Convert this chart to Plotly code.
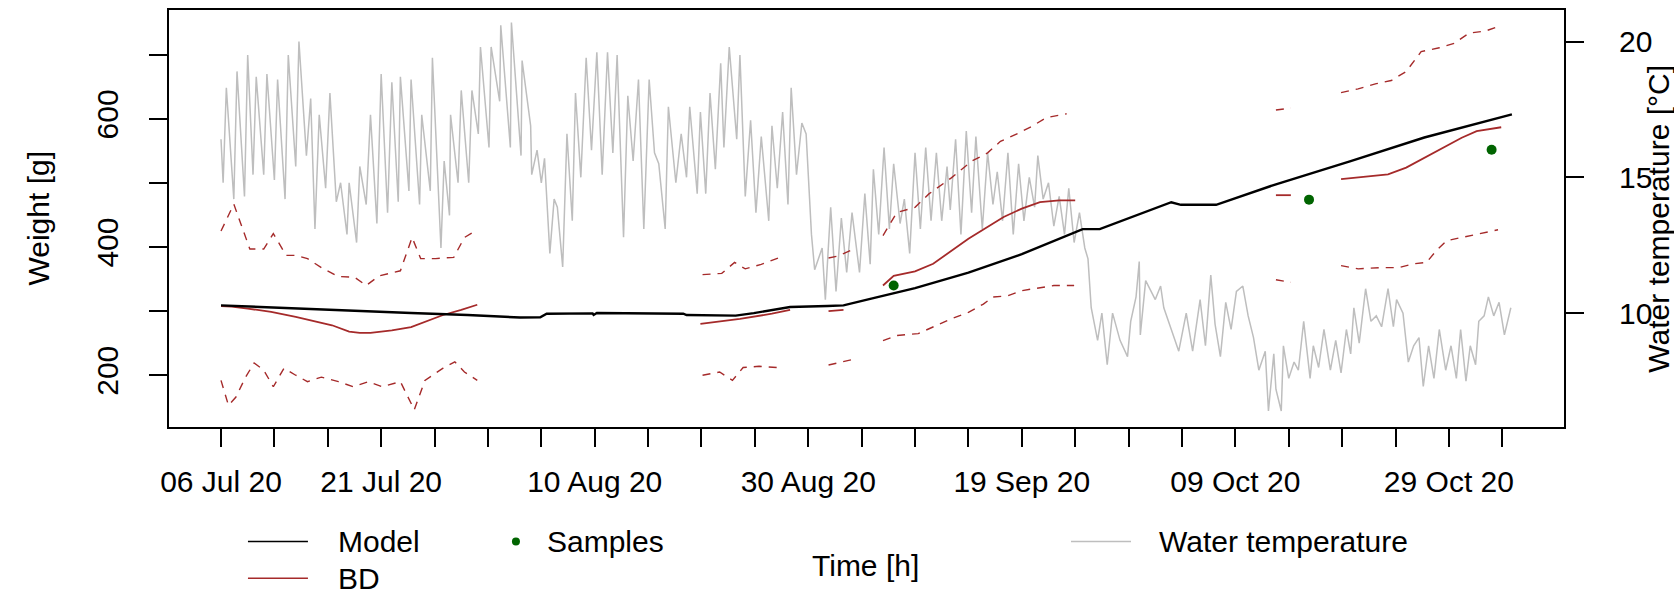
import pandas as pd
import plotly.graph_objects as go

START = pd.Timestamp("2020-07-06")

# ---- data (x values are days since 06 Jul 2020) ----
model_day = [0, 7, 12.7, 17.8, 23.1, 28, 29.9, 30.5, 34.8, 34.9, 35.2, 43.3, 43.6, 48.2,
             49.9, 53.3, 56.8, 58.3, 61, 65, 70, 75, 80.7, 82.3, 89, 89.9, 93.2, 98.8,
             105.8, 112.7, 120.9]
model_g = [309, 304, 300, 297, 294, 290, 290.5, 296, 296.5, 294, 297, 296, 294, 293,
           297, 306.5, 308, 309, 320, 336, 360, 389, 428, 428, 470, 466, 466, 498,
           534, 571, 607]

bd_day = [
    [0, 1, 2.5, 4.7, 7, 10.4, 12, 13, 14, 16, 17.8, 19.5, 20.8, 22.5, 24],
    [44.9, 46.5, 48.6, 51.6, 53.3],
    [56.9, 58.3],
    [62, 63, 65, 66.7, 70, 73.3, 75, 76.7, 78.5, 80],
    [98.8, 100.2],
    [104.9, 106.5, 109.3, 111, 112.7, 114.5, 116.2, 117.6, 119.9],
]
bd_g = [
    [308, 307, 304, 299, 291, 278, 268, 266, 266, 270, 275, 286, 294, 302, 310],
    [280, 283, 288, 296, 302],
    [300, 302],
    [340, 355, 362, 374, 413, 447, 460, 470, 473, 473],
    [481, 481],
    [506, 508.5, 513.6, 524, 539.5, 555, 570.6, 581, 587],
]

bd_hi_day = [
    [0, 1.2, 2.7, 4, 4.9, 6.1, 7, 8.1, 9.4, 11, 12.5, 13.6, 14.8, 16.8, 17.9, 18.7,
     20.1, 21.8, 22.8, 24],
    [45.1, 46.9, 48.1, 49.1, 50.6, 52.2],
    [56.9, 57.8, 59],
    [62, 63.3, 65, 66.3, 68.4, 70.3, 71.8, 73, 74.7, 76, 77.3, 79.2],
    [98.8, 100.2],
    [104.9, 106.5, 108.2, 109.6, 111, 112.4, 114.1, 115.5, 116.9, 118.4, 119.9],
]
bd_hi_g = [
    [425, 467, 397, 397, 421, 387, 387, 382, 368, 354, 353, 340, 355, 363, 415, 382,
     382, 384, 415, 427],
    [357, 359, 376, 366, 373, 383],
    [383, 386, 395],
    [418, 454, 462, 483, 508, 534, 547, 565, 578, 589, 602, 608],
    [614, 617],
    [641, 647, 655, 660, 674, 705, 711, 718, 734, 737, 746],
]

bd_lo_day = [
    [0, 0.7, 1.4, 2.3, 3.1, 4, 4.9, 5.9, 7, 8.1, 9.4, 11, 12.4, 13.8, 15.1, 16.8,
     18.1, 19.1, 20.8, 21.9, 22.8, 24],
    [45.1, 46.7, 47.9, 48.9, 50.4, 52.1],
    [56.9, 59],
    [62, 63.3, 65.3, 66.7, 68.4, 70, 71.4, 72.3, 73.7, 75, 76.7, 78, 79.9],
    [98.8, 100.2],
    [104.9, 106.5, 108.6, 110.3, 111.7, 112.9, 113.8, 114.8, 116.2, 117.6, 119.6],
]
bd_lo_g = [
    [192, 153, 166, 197, 219, 208, 182, 211, 200, 190, 197, 190, 182, 190, 182, 190,
     146, 192, 211, 221, 205, 192],
    [200, 205, 192, 212, 214, 212],
    [216, 224],
    [254, 262, 265, 275, 288, 298, 311, 322, 324, 332, 337, 340, 340],
    [349, 345],
    [371, 366, 368, 368, 374, 376, 394, 410, 415, 420, 427],
]

sample_day = [63.0, 101.9, 119.0]
sample_g = [340, 474, 552]

temp_day = [
    0.0, 0.2, 0.5, 1.2, 1.5, 2.2, 2.5, 3.0, 3.3, 4.0, 4.3, 5.0, 5.3, 6.0, 6.3, 7.0, 7.3,
    8.0, 8.4, 8.8, 9.2, 9.8, 10.2, 10.8, 11.2, 11.8, 12.0, 12.7, 13.0, 13.6, 14.0, 14.6,
    15.0, 15.6, 16.0, 16.6, 16.8, 17.6, 17.8, 18.6, 18.8, 19.6, 19.8, 20.6, 20.9, 21.4,
    21.5, 22.2, 22.5, 23.2, 23.5, 24.1, 24.3, 25.1, 25.3, 26.1, 26.2, 27.1, 27.2, 28.1,
    28.2, 29.0, 29.1, 29.6, 30.0, 30.3, 30.8, 31.2, 31.5, 32.0, 32.4, 32.9, 33.2, 33.7,
    34.2, 34.7, 35.2, 35.7, 36.2, 36.7, 37.1, 37.7, 38.1, 38.6, 39.1, 39.6, 40.1, 40.6,
    41.0, 41.6, 41.9, 42.6, 43.1, 43.6, 43.9, 44.6, 44.9, 45.4, 45.8, 46.3, 46.8, 47.1,
    47.6, 48.3, 48.6, 49.1, 49.6, 50.1, 50.6, 51.3, 51.6, 52.1, 52.6, 53.1, 53.4, 53.9,
    54.4, 54.8, 55.3, 55.6, 56.3, 56.6, 57.1, 57.6, 58.1, 58.6, 59.1, 59.8, 60.3, 60.8,
    61.1, 61.6, 62.1, 62.6, 63.0, 63.6, 64.0, 64.5, 65.0, 65.5, 66.0, 66.5, 67.0, 67.5,
    68.0, 68.3, 68.8, 69.3, 69.8, 70.3, 70.7, 71.3, 71.8, 72.3, 72.7, 73.2, 73.7, 74.2,
    74.7, 75.2, 75.7, 76.2, 76.5, 77.0, 77.5, 78.0, 78.5, 79.0, 79.4, 79.9, 80.4, 80.9,
    81.2, 81.5, 82.1, 82.5, 83.0, 83.5, 84.2, 84.9, 85.2, 85.7, 86.0, 86.1, 86.6, 87.5,
    88.0, 88.3, 89.0, 89.7, 90.4, 91.0, 91.7, 92.2, 92.7, 93.1, 93.6, 94.1, 94.6, 95.1,
    95.7, 96.2, 96.7, 97.2, 97.8, 98.1, 98.6, 98.8, 99.3, 99.5, 100.0, 100.5, 100.9,
    101.4, 102.0, 102.3, 102.8, 103.3, 103.9, 104.4, 104.9, 105.4, 105.8, 106.1, 106.6,
    107.2, 107.7, 108.2, 108.7, 109.3, 109.8, 110.1, 110.7, 111.2, 111.7, 112.2, 112.6,
    113.1, 113.6, 114.1, 114.7, 115.2, 115.7, 116.1, 116.6, 117.0, 117.5, 117.8, 118.3,
    118.7, 119.2, 119.7, 120.2, 120.8,
]
temp_c = [
    16.4, 14.8, 18.3, 14.2, 18.9, 14.3, 19.5, 15.1, 18.7, 15.1, 18.8, 14.9, 18.6, 14.2, 19.5, 15.4, 20.0,
    15.8, 17.9, 13.1, 17.3, 14.6, 18.1, 14.1, 14.8, 12.9, 14.8, 12.6, 15.4, 14.0, 17.3, 13.3,
    18.8, 13.7, 18.5, 14.1, 18.7, 14.5, 18.6, 14.0, 17.3, 14.5, 19.4, 12.4, 15.6, 13.6,
    17.3, 14.8, 18.2, 14.8, 18.2, 16.6, 19.8, 16.1, 19.8, 17.8, 20.6, 16.1, 20.7, 15.8,
    19.3, 16.9, 15.1, 16.0, 14.8, 15.7, 12.2, 14.2, 13.9, 11.7, 16.6, 13.4, 18.1, 15.0,
    19.4, 16.0, 19.6, 15.1, 19.6, 15.9, 19.5, 12.8, 18.0, 15.6, 18.6, 13.1, 18.6, 15.9,
    15.5, 13.1, 17.6, 14.8, 16.6, 15.0, 17.6, 14.4, 17.4, 14.4, 18.1, 15.3, 19.2, 16.1,
    19.8, 16.4, 19.5, 14.3, 17.1, 13.7, 16.5, 13.4, 16.9, 14.6, 17.4, 14.0, 18.3, 15.1,
    17.0, 16.6, 12.9, 11.6, 12.4, 10.5, 13.9, 10.8, 13.5, 11.5, 13.7, 11.5, 14.4, 11.8,
    15.3, 12.9, 16.1, 13.1, 15.5, 13.3, 14.2, 12.2, 15.9, 13.1, 16.1, 13.4, 15.9, 13.4,
    15.4, 13.8, 16.4, 12.9, 16.7, 13.7, 16.5, 13.1, 15.9, 14.0, 15.2, 13.4, 15.9, 12.9,
    15.5, 13.4, 15.0, 13.9, 15.8, 14.2, 14.8, 13.2, 14.3, 12.9, 14.6, 12.6, 13.7, 12.4,
    12.0, 10.2, 9.0, 10.0, 8.1, 10.0, 9.0, 8.4, 9.7, 10.6, 11.9, 9.2, 11.2, 10.5,
    11.0, 10.2, 9.4, 8.6, 10.0, 8.6, 10.5, 8.8, 11.4, 9.6, 8.4, 10.4, 9.4, 10.8,
    11.0, 9.9, 9.1, 7.9, 8.6, 6.4, 8.5, 7.2, 6.4, 8.8, 7.6, 8.2, 7.9,
    9.7, 7.6, 8.8, 8.0, 9.4, 7.9, 9.0, 7.8, 9.4, 8.5, 10.2, 8.9,
    10.9, 9.7, 9.9, 9.5, 10.9, 9.5, 10.5, 10.0, 8.2, 8.8, 9.1, 7.3,
    8.8, 7.6, 9.4, 7.9, 8.8, 7.6, 9.4, 7.5, 8.8, 8.1, 9.7, 9.9,
    10.6, 9.9, 10.4, 9.2, 10.2,
]

tick_days = list(range(0, 121, 5))
tick_text = ["06 Jul 20", "", "", "21 Jul 20", "", "", "", "10 Aug 20", "", "", "",
             "30 Aug 20", "", "", "", "19 Sep 20", "", "", "", "09 Oct 20", "", "", "",
             "29 Oct 20", ""]
weight_ticks = [200, 300, 400, 500, 600, 700]
weight_text = ["200", "", "400", "", "600", ""]
temp_ticks = [10, 15, 20]


def to_time(days):
    return [None if d is None else START + pd.Timedelta(days=d) for d in days]


def join(day_segs, val_segs):
    xs, ys = [], []
    for dd, vv in zip(day_segs, val_segs):
        if xs:
            xs.append(None)
            ys.append(None)
        xs.extend(dd)
        ys.extend(vv)
    return to_time(xs), ys


BLACK = "#000000"
BROWN = "#A52A2A"
GREEN = "#006400"
GREY = "#BEBEBE"
FONT = "Liberation Sans, Arial, sans-serif"
FS = 30

fig = go.Figure()

# water temperature on the right-hand axis (drawn first, underneath)
fig.add_trace(go.Scatter(
    x=to_time(temp_day), y=temp_c, yaxis="y", mode="lines",
    line=dict(color=GREY, width=1.5), hoverinfo="skip"))

lx, ly = join(bd_lo_day, bd_lo_g)
fig.add_trace(go.Scatter(x=lx, y=ly, yaxis="y2", mode="lines", connectgaps=False,
                         line=dict(color=BROWN, width=1.4, dash="8px,7px")))
hx, hy = join(bd_hi_day, bd_hi_g)
fig.add_trace(go.Scatter(x=hx, y=hy, yaxis="y2", mode="lines", connectgaps=False,
                         line=dict(color=BROWN, width=1.4, dash="8px,7px")))
bx, by = join(bd_day, bd_g)
fig.add_trace(go.Scatter(x=bx, y=by, yaxis="y2", mode="lines", connectgaps=False,
                         line=dict(color=BROWN, width=1.8)))
fig.add_trace(go.Scatter(x=to_time(model_day), y=model_g, yaxis="y2", mode="lines",
                         line=dict(color=BLACK, width=2.4)))
fig.add_trace(go.Scatter(x=to_time(sample_day), y=sample_g, yaxis="y2", mode="markers",
                         marker=dict(color=GREEN, size=10)))

axis_common = dict(
    ticks="outside", ticklen=18, tickwidth=2, tickcolor=BLACK,
    showline=True, linewidth=2, linecolor=BLACK, showgrid=False, zeroline=False,
    tickfont=dict(family=FONT, size=FS, color=BLACK),
)

fig.update_layout(
    width=1674, height=597,
    margin=dict(l=169, r=110, t=8, b=170),
    paper_bgcolor="white", plot_bgcolor="white",
    showlegend=False,
    font=dict(family=FONT, size=FS, color=BLACK),
    xaxis=dict(
        type="date",
        range=[START - pd.Timedelta(days=4.87), START + pd.Timedelta(days=125.78)],
        tickvals=to_time(tick_days), ticktext=tick_text, tickangle=0,
        mirror=True, ticklabelstandoff=9, **axis_common),
    yaxis=dict(
        side="right", range=[5.81, 21.16], tickvals=temp_ticks,
        ticklabelstandoff=29, **axis_common),
    yaxis2=dict(
        side="left", overlaying="y", range=[119.2, 770],
        tickvals=weight_ticks, ticktext=weight_text, tickangle=-90,
        mirror=True, ticklabelstandoff=19, **axis_common),
)


def ann(text, x, y, **kw):
    fig.add_annotation(text=text, x=x, y=y, xref="paper", yref="paper",
                       showarrow=False, font=dict(family=FONT, size=FS, color=BLACK), **kw)


ann("Weight [g]", -0.0939, 0.5, textangle=-90, xanchor="center", yanchor="middle")
ann("Water temperature [°C]", 1.0675, 0.5, textangle=-90, xanchor="center", yanchor="middle")
ann("Time [h]", 0.4996, -0.3317, xanchor="center", yanchor="middle")

# legend below the plot
ann("Model", 0.1197, -0.2745, xanchor="left", yanchor="middle")
ann("BD", 0.1197, -0.3628, xanchor="left", yanchor="middle")
ann("Samples", 0.2695, -0.2745, xanchor="left", yanchor="middle")
ann("Water temperature", 0.7082, -0.2745, xanchor="left", yanchor="middle")

fig.add_shape(type="line", xref="paper", yref="paper", x0=0.0566, x1=0.0996,
              y0=-0.2745, y1=-0.2745, line=dict(color=BLACK, width=1.6))
fig.add_shape(type="line", xref="paper", yref="paper", x0=0.0566, x1=0.0996,
              y0=-0.3628, y1=-0.3628, line=dict(color=BROWN, width=1.6))
fig.add_shape(type="line", xref="paper", yref="paper", x0=0.6466, x1=0.6896,
              y0=-0.2745, y1=-0.2745, line=dict(color=GREY, width=1.6))
fig.add_shape(type="circle", xref="paper", yref="paper", xsizemode="pixel",
              ysizemode="pixel", xanchor=0.2487, yanchor=-0.2745,
              x0=-4, x1=4, y0=-4, y1=4, fillcolor=GREEN, line=dict(width=0))

fig.write_html("out.html")
